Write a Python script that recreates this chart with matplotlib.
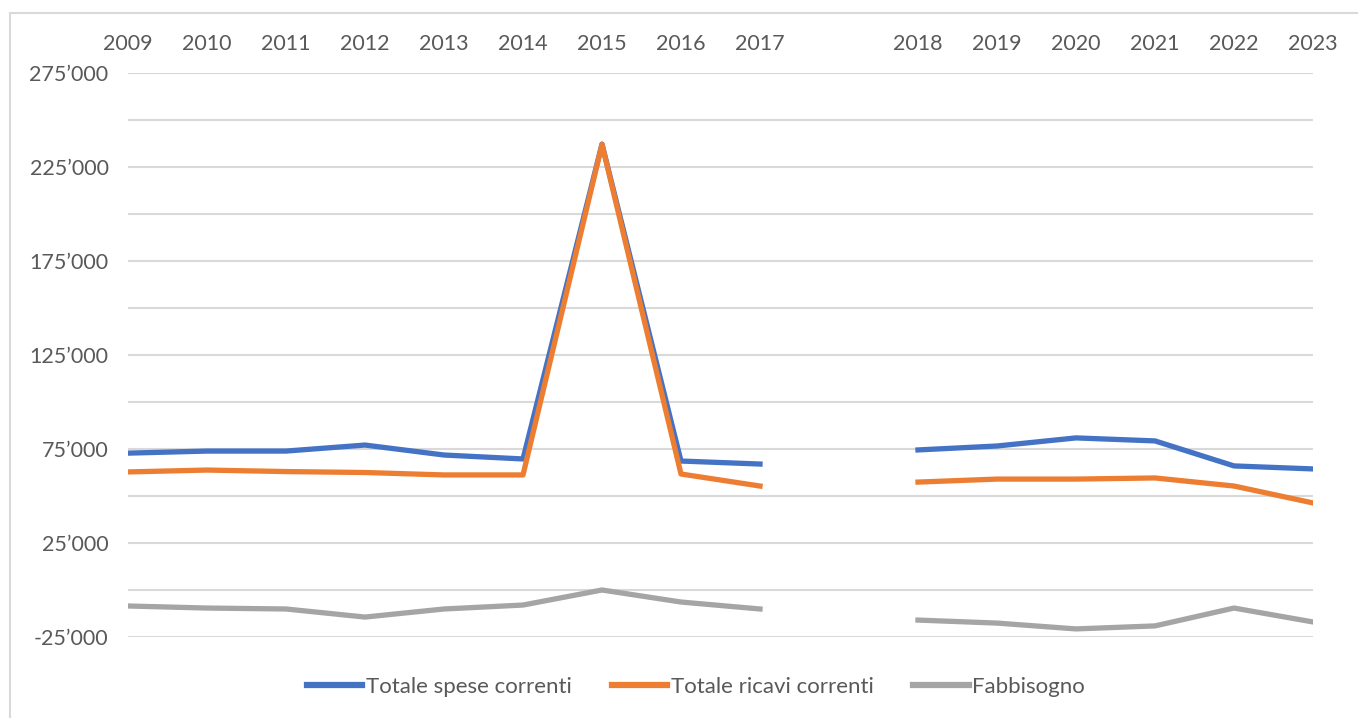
import numpy as np
import matplotlib.pyplot as plt
from matplotlib.patches import Rectangle

plt.rcParams['font.family'] = ['Lato', 'DejaVu Sans']

# categories (empty slot between 2017 and 2018 as in the original)
years = ['2009', '2010', '2011', '2012', '2013', '2014', '2015', '2016', '2017',
         '', '2018', '2019', '2020', '2021', '2022', '2023']
spese = [72800, 73900, 73900, 77100, 71800, 69700, 237200, 68600, 67000,
         np.nan, 74500, 76600, 80900, 79300, 66000, 64400]
ricavi = [62800, 63800, 63000, 62500, 61200, 61200, 237000, 61700, 55300,
          np.nan, 57400, 59000, 59000, 59600, 55300, 46300]
fabbisogno = [-8500, -9600, -10100, -14400, -10100, -8000, 0, -6400, -10100,
              np.nan, -16000, -17600, -20700, -19100, -9600, -17000]

labelled = [275000, 225000, 175000, 125000, 75000, 25000, -25000]
unlabelled = [250000, 200000, 150000, 100000, 50000, 0]

W, H = 1358, 718
fig = plt.figure(figsize=(W / 100, H / 100), dpi=100)
ax = fig.add_axes([128 / W, 1 - 637 / H, (1313 - 128) / W, (637 - 73) / H])

# chart frame
fig.patches.append(Rectangle((10 / W, -0.1), 1.2, 1 - 13 / H + 0.1,
                             transform=fig.transFigure, fill=False,
                             edgecolor='#D9D9D9', lw=1.5))

x = np.arange(len(years))
ax.plot(x, spese, color='#4472C4', lw=3.8, label='Totale spese correnti')
ax.plot(x, ricavi, color='#ED7D31', lw=3.8, label='Totale ricavi correnti')
ax.plot(x, fabbisogno, color='#A5A5A5', lw=3.8, label='Fabbisogno')

ax.set_xlim(0, len(years) - 1)
ax.set_ylim(-25000, 275000)
ax.set_xticks(x)
ax.set_xticklabels(years)
ax.xaxis.tick_top()
ax.set_yticks(labelled)
ax.set_yticklabels([f"{v // 1000}’000" if v >= 0 else f"-{abs(v) // 1000}’000" for v in labelled])
ax.set_yticks(unlabelled, minor=True)
ax.tick_params(axis='x', length=0, pad=14, labelsize=15.5, labelcolor='#595959')
ax.tick_params(axis='y', which='both', length=0, pad=14, labelsize=15.5, labelcolor='#595959')
ax.grid(axis='y', which='both', color='#D9D9D9', lw=1.5)
ax.set_axisbelow(True)
for s in ax.spines.values():
    s.set_visible(False)

leg = fig.legend(loc='center', bbox_to_anchor=(0.5125, 1 - 687 / H), ncol=3, frameon=False,
                 fontsize=16, handlelength=2.5, columnspacing=1.8, handletextpad=0.15,
                 labelcolor='#595959')
for h in leg.get_lines():
    h.set_linewidth(4.5)

fig.savefig('out.png', dpi=100)
